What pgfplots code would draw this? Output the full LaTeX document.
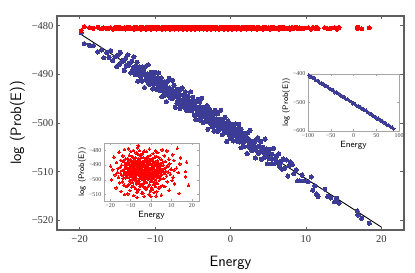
\documentclass[border=0pt]{standalone}
\usepackage{fontspec}
\setmainfont{Liberation Serif}
\usepackage{pgfplots}
\usepackage{pgfplotstable}
\pgfplotsset{compat=1.18}
\definecolor{plotblue}{RGB}{60,60,150}
\definecolor{framegray}{RGB}{95,95,95}
\definecolor{insetgray}{RGB}{165,165,165}
\pgfplotstableread{
E b r t
-19.8 -481.4 -490.8 -481.0
-19.4 -483.7 -500.1 -480.2
-18.7 -484.0 -493.2 -480.35
-18.2 -484.1 -484.6 -480.55
-17.6 -485.4 -496.7 -480.3
-17.1 -485.0 -505.5 -480.65
-16.8 -486.6 -488.4 -480.45
-16.4 -485.5 -494.9 -480.6
-16.1 -486.5 -492.3 -480.5
-15.9 -485.1 -498.3 -480.4
-15.6 -487.2 -481.2 -480.7
-15.3 -486.4 -502.2 -480.35
-15.1 -488.4 -491.6 -480.55
-14.9 -486.0 -495.6 -480.3
-14.7 -487.9 -486.9 -480.65
-14.6 -485.5 -507.9 -480.45
-14.4 -487.4 -490.0 -480.6
-14.2 -487.1 -497.1 -480.5
-14.1 -489.2 -493.7 -480.4
-13.9 -486.7 -501.4 -480.7
-13.8 -488.3 -483.8 -480.35
-13.6 -486.0 -499.0 -480.55
-13.5 -488.1 -487.7 -480.3
-13.4 -487.7 -494.2 -480.65
-13.2 -489.7 -503.7 -480.45
-13.1 -487.3 -492.9 -480.6
-13.0 -489.3 -479.4 -480.5
-12.9 -488.6 -496.0 -480.4
-12.8 -486.4 -510.2 -480.7
-12.7 -489.3 -490.1 -480.35
-12.6 -490.1 -486.0 -480.55
-12.5 -488.3 -498.8 -480.3
-12.4 -487.5 -495.2 -480.65
-12.3 -491.4 -488.9 -480.45
-12.2 -489.0 -504.6 -480.6
-12.1 -489.8 -492.0 -480.5
-12.0 -488.5 -497.5 -480.4
-11.9 -490.5 -497.0 -480.7
-11.8 -489.2 -491.5 -480.35
-11.7 -491.4 -504.1 -480.55
-11.7 -488.5 -488.4 -480.3
-11.6 -490.1 -494.7 -480.65
-11.5 -489.2 -498.3 -480.45
-11.4 -492.7 -485.5 -480.6
-11.3 -490.1 -489.6 -480.5
-11.3 -488.4 -509.7 -480.4
-11.2 -491.0 -495.5 -480.7
-11.1 -491.4 -478.9 -480.35
-11.0 -489.9 -492.4 -480.55
-10.9 -488.0 -503.2 -480.3
-10.9 -490.9 -493.7 -480.65
-10.8 -492.0 -487.2 -480.45
-10.7 -490.4 -498.5 -480.6
-10.6 -490.3 -483.3 -480.5
-10.6 -492.0 -500.9 -480.4
-10.5 -489.6 -493.2 -480.7
-10.4 -491.4 -496.6 -480.35
-10.3 -491.0 -489.5 -480.55
-10.3 -493.0 -507.4 -480.3
-10.2 -490.4 -486.4 -480.65
-10.1 -492.0 -495.1 -480.45
-10.0 -489.6 -491.1 -480.6
-9.9 -491.7 -501.7 -480.5
-9.9 -491.2 -480.7 -480.4
-9.8 -493.1 -497.8 -480.7
-9.7 -490.7 -491.8 -480.35
-9.6 -492.7 -494.4 -480.55
-9.6 -491.9 -487.9 -480.3
-9.5 -489.7 -505.0 -480.65
-9.4 -492.6 -496.2 -480.45
-9.3 -493.4 -484.1 -480.6
-9.3 -491.5 -492.7 -480.5
-9.2 -490.7 -499.6 -480.4
-9.1 -494.6 -490.3 -480.7
-9.1 -492.1 -494.3 -480.35
-9.0 -492.9 -502.0 -480.55
-9.0 -491.5 -484.4 -480.3
-8.9 -493.5 -499.6 -480.65
-8.9 -492.1 -488.3 -480.45
-8.8 -494.3 -494.8 -480.6
-8.7 -491.5 -504.3 -480.5
-8.6 -493.1 -493.5 -480.4
-8.6 -492.1 -480.0 -480.7
-8.5 -495.6 -496.6 -480.35
-8.4 -493.0 -510.8 -480.55
-8.3 -491.4 -490.7 -480.3
-8.3 -493.9 -486.6 -480.65
-8.2 -494.3 -499.4 -480.45
-8.1 -492.8 -495.8 -480.6
-8.1 -490.8 -489.5 -480.5
-8.0 -493.8 -505.2 -480.4
-8.0 -494.8 -492.6 -480.7
-7.9 -493.2 -498.1 -480.35
-7.9 -494.9 -491.4 -480.55
-7.8 -494.0 -500.7 -480.3
-7.7 -491.2 -493.8 -480.65
-7.7 -493.2 -485.2 -480.45
-7.6 -494.9 -497.3 -480.6
-7.5 -494.7 -506.1 -480.5
-7.5 -492.2 -489.0 -480.4
-7.4 -494.0 -495.5 -480.7
-7.3 -496.8 -492.9 -480.35
-7.3 -493.4 -498.9 -480.55
-7.2 -494.5 -481.8 -480.3
-7.1 -493.1 -502.8 -480.65
-7.1 -496.0 -492.2 -480.45
-7.0 -494.0 -496.2 -480.6
-7.0 -495.4 -487.5 -480.5
-6.9 -493.6 -508.5 -480.4
-6.9 -495.0 -490.6 -480.7
-6.8 -494.4 -512.0 -480.35
-6.7 -497.0 -495.0 -480.55
-6.7 -493.2 -478.4 -480.3
-6.6 -494.2 -491.9 -480.65
-6.5 -496.2 -502.7 -480.45
-6.5 -495.5 -493.2 -480.6
-6.4 -492.8 -486.7 -480.5
-6.3 -495.2 -476.8 -480.4
-6.3 -496.0 -482.8 -480.7
-6.2 -494.2 -500.4 -480.35
-6.1 -496.8 -492.7 -480.55
-6.1 -495.0 -496.1 -480.3
-6.0 -495.6 -489.0 -480.65
-6.0 -493.6 -506.9 -480.45
-5.9 -496.2 -485.9 -480.6
-5.9 -494.7 -494.6 -480.5
-5.8 -497.5 -490.6 -480.4
-5.8 -495.5 -501.2 -480.7
-5.7 -496.1 -480.2 -480.35
-5.6 -494.5 -497.3 -480.55
-5.6 -497.0 -491.3 -480.3
-5.5 -495.4 -493.9 -480.65
-5.4 -495.7 -487.4 -480.45
-5.4 -497.4 -504.5 -480.6
-5.3 -496.5 -495.7 -480.5
-5.3 -493.6 -483.6 -480.4
-5.2 -495.7 -492.2 -480.7
-5.1 -497.4 -499.1 -480.35
-5.1 -497.1 -489.8 -480.55
-5.0 -494.7 -496.5 -480.3
-5.0 -496.4 -491.0 -480.65
-4.9 -497.0 -503.6 -480.45
-4.9 -495.4 -487.9 -480.6
-4.8 -498.4 -494.2 -480.5
-4.8 -496.4 -497.8 -480.4
-4.7 -495.9 -485.0 -480.7
-4.6 -497.1 -489.1 -480.35
-4.6 -499.3 -509.2 -480.55
-4.5 -495.5 -496.1 -480.3
-4.4 -497.1 -493.5 -480.65
-4.4 -497.9 -499.5 -480.45
-4.3 -495.1 -482.4 -480.6
-4.3 -498.2 -503.4 -480.5
-4.2 -496.8 -492.8 -480.4
-4.1 -498.0 -496.8 -480.7
-4.1 -495.7 -488.1 -480.35
-4.0 -499.4 -509.1 -480.55
-4.0 -497.3 -491.2 -480.3
-3.9 -496.8 -498.3 -480.65
-3.9 -498.9 -494.9 -480.45
-3.8 -497.8 -502.6 -480.6
-3.8 -494.9 -485.0 -480.5
-3.7 -498.3 -500.2 -480.4
-3.6 -496.9 -488.9 -480.7
-3.6 -499.9 -495.4 -480.35
-3.5 -497.6 -504.9 -480.55
-3.4 -498.8 -494.1 -480.3
-3.4 -496.8 -480.6 -480.65
-3.3 -499.7 -497.2 -480.45
-3.3 -497.6 -511.4 -480.6
-3.2 -498.6 -491.3 -480.5
-3.1 -496.4 -487.2 -480.4
-3.1 -499.5 -500.0 -480.7
-3.0 -498.4 -496.4 -480.35
-3.0 -501.3 -490.1 -480.55
-2.9 -497.7 -505.8 -480.3
-2.9 -499.0 -493.2 -480.65
-2.8 -497.1 -498.7 -480.45
-2.8 -499.6 -492.0 -480.6
-2.7 -498.5 -501.3 -480.5
-2.6 -500.1 -494.4 -480.4
-2.6 -499.3 -485.8 -480.7
-2.5 -497.8 -497.9 -480.35
-2.4 -500.8 -506.7 -480.55
-2.4 -498.8 -489.6 -480.3
-2.3 -498.3 -486.6 -480.65
-2.3 -499.4 -495.3 -480.45
-2.2 -501.7 -491.3 -480.6
-2.1 -497.9 -501.9 -480.5
-2.1 -499.4 -480.9 -480.4
-2.0 -500.3 -498.0 -480.7
-2.0 -497.4 -492.0 -480.35
-1.9 -500.6 -494.6 -480.55
-1.9 -499.1 -488.1 -480.3
-1.8 -500.3 -505.2 -480.65
-1.7 -498.1 -496.4 -480.45
-1.7 -501.7 -484.3 -480.6
-1.6 -499.7 -492.9 -480.5
-1.5 -499.2 -499.8 -480.4
-1.5 -501.3 -490.5 -480.7
-1.4 -500.2 -497.2 -480.35
-1.3 -497.4 -491.7 -480.55
-1.3 -500.7 -504.3 -480.3
-1.2 -499.3 -488.6 -480.65
-1.1 -502.4 -494.9 -480.45
-1.1 -500.0 -498.5 -480.6
-1.0 -501.2 -485.7 -480.5
-1.0 -499.2 -489.8 -480.4
-0.9 -502.1 -509.9 -480.7
-0.9 -500.0 -495.7 -480.35
-0.8 -501.0 -479.1 -480.55
-0.7 -498.8 -492.6 -480.3
-0.7 -501.9 -503.4 -480.65
-0.6 -500.8 -493.9 -480.45
-0.5 -503.8 -487.4 -480.6
-0.5 -500.1 -498.7 -480.5
-0.4 -501.5 -483.5 -480.4
-0.3 -499.6 -501.1 -480.7
-0.3 -502.1 -493.4 -480.35
-0.2 -501.0 -496.8 -480.55
-0.1 -502.6 -489.7 -480.3
-0.1 -501.8 -507.6 -480.65
0.0 -500.3 -511.5 -480.45
0.0 -503.2 -486.9 -480.6
0.1 -501.0 -499.7 -480.5
0.1 -502.7 -496.1 -480.4
0.2 -500.3 -489.8 -480.7
0.3 -502.1 -505.5 -480.35
0.3 -501.6 -492.9 -480.55
0.4 -503.7 -498.4 -480.3
0.5 -501.1 -491.7 -480.65
0.5 -502.6 -501.0 -480.45
0.6 -500.2 -494.1 -480.6
0.7 -502.3 -485.5 -480.5
0.7 -501.8 -497.6 -480.4
0.8 -503.7 -506.4 -480.7
0.9 -501.3 -489.3 -480.35
0.9 -503.2 -495.8 -480.55
1.0 -502.5 -493.2 -480.3
1.1 -500.3 -499.2 -480.65
1.1 -503.1 -482.1 -480.45
1.2 -503.9 -503.1 -480.6
1.3 -502.1 -492.5 -480.5
1.4 -501.3 -496.5 -480.4
1.4 -505.1 -487.8 -480.7
1.5 -502.7 -508.8 -480.35
1.6 -503.5 -490.9 -480.55
1.6 -502.1 -498.0 -480.3
1.7 -504.1 -494.6 -480.65
1.8 -502.8 -502.3 -480.45
1.8 -504.9 -484.7 -480.6
1.9 -502.1 -499.9 -480.5
2.0 -503.7 -488.6 -480.4
2.1 -502.8 -495.1 -480.7
2.2 -506.3 -504.6 -480.35
2.2 -503.6 -493.8 -480.55
2.3 -502.0 -480.3 -480.3
2.4 -504.6 -496.9 -480.65
2.5 -505.0 -511.1 -480.45
2.5 -503.4 -484.1 -480.6
2.6 -501.5 -501.7 -480.5
2.7 -504.5 -494.0 -480.4
2.8 -505.6 -497.4 -480.7
2.8 -503.9 -490.3 -480.35
2.9 -503.8 -508.2 -480.55
3.0 -505.6 -487.2 -480.3
3.1 -504.3 -495.9 -480.65
3.2 -503.8 -491.9 -480.45
3.2 -504.9 -502.5 -480.6
3.3 -507.2 -481.5 -480.5
3.4 -503.4 -498.6 -480.4
3.5 -505.0 -492.6 -480.7
3.6 -505.9 -495.2 -480.35
3.6 -503.0 -488.7 -480.55
3.7 -506.2 -505.8 -480.3
3.8 -504.8 -497.0 -480.65
3.9 -506.0 -484.9 -480.45
4.0 -503.8 -493.5 -480.6
4.1 -507.5 -500.4 -480.5
4.2 -505.5 -491.1 -480.4
4.3 -505.0 -497.8 -480.7
4.4 -507.2 -492.3 -480.35
4.5 -506.1 -504.9 -480.55
4.6 -503.3 -489.2 -480.3
4.7 -506.7 -495.5 -480.65
4.8 -505.3 -499.1 -480.45
4.9 -508.4 -486.3 -480.6
5.0 -506.1 -490.4 -480.5
5.1 -507.3 -510.5 -480.4
5.2 -505.4 -496.3 -480.7
5.4 -508.4 -479.7 -480.35
5.5 -506.4 -493.2 -480.55
5.6 -507.4 -504.0 -480.3
5.7 -505.2 -494.5 -480.65
5.8 -508.4 -488.0 -480.45
6.0 -507.4 -499.3 -480.6
6.1 -506.7 -490.0 -480.5
6.3 -508.2 -499.3 -480.4
6.4 -506.3 -492.4 -480.7
6.5 -508.9 -483.8 -480.35
6.7 -507.9 -495.9 -480.55
6.8 -509.5 -504.7 -480.3
7.0 -507.4 -487.6 -480.65
7.2 -509.3 -494.1 -480.45
7.4 -507.6 -491.5 -480.6
7.6 -510.9 -497.5 -480.5
7.8 -508.8 -480.4 -480.4
7.9 -508.0 -501.4 -480.7
8.2 -508.5 -490.8 -480.35
8.4 -510.4 -494.8 -480.55
8.7 -509.6 -486.1 -480.3
8.9 -511.9 -507.1 -480.65
9.2 -511.9 -489.2 -480.45
9.5 -510.7 -496.3 -480.6
9.8 -511.9 -492.9 -480.5
10.3 -512.1 -500.6 -480.4
10.7 -511.1 -483.0 -480.7
10.9 -513.8 -498.2 -480.35
11.2 -512.9 -486.9 -480.55
11.4 -514.6 -493.4 -480.3
11.6 -515.1 -502.9 -480.65
12.5 -513.6 -492.1 -480.45
12.9 -515.1 -478.6 -480.6
13.3 -515.4 -495.2 -480.5
13.8 -516.2 -509.4 -480.4
14.1 -515.5 -489.3 -480.7
14.4 -516.5 -485.2 -480.35
16.8 -518.1 -498.0 -480.55
16.9 -518.9 -494.4 -480.3
17.4 -519.6 -488.1 -480.65
18.4 -520.6 -503.8 -480.45
}\maindata
\pgfplotstableread{
E y
-98 -404
-95 -410
-92 -409
-89 -415
-86 -414
-83 -422
-80 -423
-77 -424
-74 -432
-71 -431
-68 -436
-65 -436
-62 -443
-59 -441
-56 -447
-53 -452
-50 -452
-47 -457
-44 -457
-41 -465
-38 -464
-35 -468
-32 -469
-29 -476
-26 -476
-23 -481
-20 -480
-17 -488
-14 -489
-11 -490
-8 -496
-5 -497
-2 -504
1 -502
4 -507
7 -512
10 -512
13 -517
16 -517
19 -524
22 -524
25 -528
28 -528
31 -535
34 -536
37 -542
40 -541
43 -546
46 -550
49 -551
52 -558
55 -556
58 -561
61 -566
64 -566
67 -571
70 -571
73 -578
76 -579
79 -581
82 -586
85 -586
88 -592
}\insetdata
\begin{document}
\begin{tikzpicture}
\useasboundingbox (-57pt,-43pt) rectangle (358pt,230pt);
% main axis
\begin{axis}[
  at={(0pt,0pt)}, anchor=south west,
  scale only axis, width=347pt, height=214pt,
  xmin=-23, xmax=23, ymin=-522, ymax=-478,
  xtick={-20,-10,0,10,20}, xticklabels={−20,−10,0,10,20},
  ytick={-520,-510,-500,-490,-480}, yticklabels={−520,−510,−500,−490,−480},
  tick align=inside, major tick length=3.5pt,
  axis line style={draw=framegray, line width=1.1pt},
  every tick/.style={draw=framegray, line width=0.7pt},
  tick label style={font=\fontsize{10.5}{12}\selectfont, text=black!80},
  xticklabel style={yshift=-2pt},
  xlabel={Energy}, ylabel={log (Prob(E))},
  label style={font=\sffamily\fontsize{15}{18}\selectfont},
  xlabel style={yshift=-7pt},
]
\addplot[only marks, mark=*, mark size=2.1pt, color=plotblue, mark options={line width=0pt, fill=plotblue, draw=plotblue}] table[x=E, y=b] {\maindata};
\addplot[only marks, mark=*, mark size=2.0pt, color=red, mark options={line width=0pt, fill=red, draw=red}] table[x=E, y=t] {\maindata};
\addplot[black, line width=0.9pt] coordinates {(-20,-481.6) (20,-521.4)};
\end{axis}
% inset 1 (top right)
\begin{axis}[
  at={(251pt,99pt)}, anchor=south west,
  scale only axis, width=91pt, height=57pt,
  xmin=-100, xmax=100, ymin=-600, ymax=-400,
  xtick={-100,-50,0,50,100}, xticklabels={−100,−50,0,50,100},
  ytick={-600,-500,-400}, yticklabels={−600,−500,−400},
  tick align=inside, major tick length=1.8pt,
  axis line style={draw=insetgray, line width=0.6pt},
  every tick/.style={draw=insetgray, line width=0.4pt},
  tick label style={font=\fontsize{6}{7}\selectfont, text=black!75},
  xticklabel style={yshift=1pt}, yticklabel style={xshift=1pt},
  xlabel={Energy}, ylabel={log (Prob(E))},
  xlabel style={font=\sffamily\fontsize{9}{10}\selectfont, yshift=3pt},
  ylabel style={font=\sffamily\fontsize{8}{9}\selectfont, yshift=-4pt},
]
\addplot[only marks, mark=*, mark size=1.5pt, color=plotblue, mark options={line width=0pt, fill=plotblue, draw=plotblue}] table[x=E, y=y] {\insetdata};
\end{axis}
% inset 2 (bottom left)
\begin{axis}[
  at={(47pt,29pt)}, anchor=south west,
  scale only axis, width=95pt, height=58pt,
  xmin=-23, xmax=23.5, ymin=-514.5, ymax=-475,
  xtick={-20,-10,0,10,20}, xticklabels={−20,−10,0,10,20},
  ytick={-510,-500,-490,-480}, yticklabels={−510,−500,−490,−480},
  tick align=inside, major tick length=1.8pt,
  axis line style={draw=insetgray, line width=0.6pt},
  every tick/.style={draw=insetgray, line width=0.4pt},
  tick label style={font=\fontsize{6}{7}\selectfont, text=black!75},
  xticklabel style={yshift=1pt}, yticklabel style={xshift=1pt},
  xlabel={Energy}, ylabel={log (Prob(E))},
  xlabel style={font=\sffamily\fontsize{9}{10}\selectfont, yshift=3pt},
  ylabel style={font=\sffamily\fontsize{8}{9}\selectfont, yshift=-4pt},
]
\addplot[only marks, mark=*, mark size=1.3pt, color=red, mark options={line width=0pt, fill=red, draw=red}] table[x=E, y=r] {\maindata};
\end{axis}
\end{tikzpicture}
\end{document}
